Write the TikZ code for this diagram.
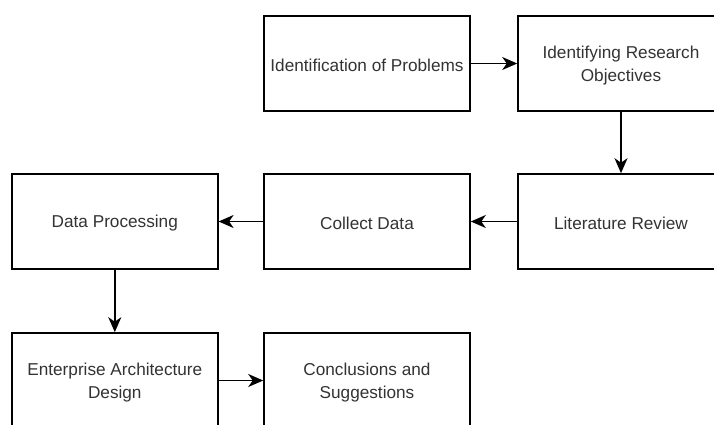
\documentclass[tikz,border=0pt]{standalone}
\usepackage{fontspec}
\setmainfont{Liberation Sans}
\usetikzlibrary{arrows.meta}
\definecolor{txt}{HTML}{333333}
\tikzset{
  stepbox/.style={draw=black, line width=1.6pt, minimum width=206pt, minimum height=95pt,
    inner sep=0pt},
  steptext/.style={align=center, text=txt, font=\fontsize{17.2}{23}\selectfont, inner sep=0pt},
  conn/.style={draw=black, line width=1.6pt, -{Stealth[length=15pt,width=13pt,inset=4.5pt]}}
}
\begin{document}
\begin{tikzpicture}[x=1pt,y=-1pt]
\useasboundingbox (0,0) rectangle (714,425);
\clip (0,0) rectangle (714,425);
\fill[white] (0,0) rectangle (714,425);
\node[stepbox] (a) at (367,63.5) {};
\node[stepbox] (b) at (621,63.5) {};
\node[stepbox] (l) at (621,221.5) {};
\node[stepbox] (c) at (367,221.5) {};
\node[stepbox] (d) at (114.8,221.5) {};
\node[stepbox] (e) at (114.8,380.5) {};
\node[stepbox] (f) at (367,380.5) {};
\node[steptext] (ta) at ([yshift=-2pt]a.center) {Identification of Problems};
\node[steptext] (tb) at ([yshift=-2pt]b.center) {Identifying Research\\Objectives};
\node[steptext] (tl) at ([yshift=-2pt]l.center) {Literature Review};
\node[steptext] (tc) at ([yshift=-2pt]c.center) {Collect Data};
\node[steptext] (td) at ([yshift=-2pt]d.center) {Data Processing};
\node[steptext] (te) at ([yshift=-2pt]e.center) {Enterprise Architecture\\Design};
\node[steptext] (tf) at ([yshift=-2pt]f.center) {Conclusions and\\Suggestions};
\draw[conn] (a.east) -- (b.west);
\draw[conn] (b.south) -- (l.north);
\draw[conn] (l.west) -- (c.east);
\draw[conn] (c.west) -- (d.east);
\draw[conn] (d.south) -- (e.north);
\draw[conn] (e.east) -- (f.west);
\end{tikzpicture}
\end{document}
